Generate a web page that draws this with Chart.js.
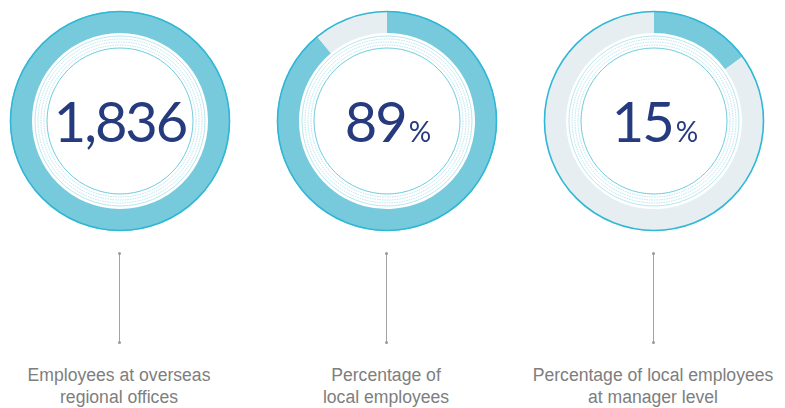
<!DOCTYPE html>
<html>
<head>
<meta charset="utf-8">
<script src="https://cdn.jsdelivr.net/npm/chart.js@4.4.0/dist/chart.umd.min.js"></script>
<style>
  html, body { margin: 0; padding: 0; background: #fff; }
  #wrap { position: relative; width: 785px; height: 408px; overflow: hidden; }
  .ring { position: absolute; top: 1px; }
  .stem { position: absolute; top: 253px; width: 1px; height: 90px; background: #a3a3a3; }
  .stem:before, .stem:after {
    content: ''; position: absolute; left: -1px; width: 3px; height: 3px;
    border-radius: 50%; background: #9a9a9a;
  }
  .stem:before { top: -1px; }
  .stem:after { bottom: -1px; }
  .caption {
    position: absolute; top: 364px; width: 300px; margin-left: -150px;
    text-align: center; font-family: "Liberation Sans", Arial, sans-serif;
    font-size: 17.6px; line-height: 22px; color: #7e7e7e;
  }
</style>
</head>
<body>
<div id="wrap"></div>
<script>
// figures shown in the middle of each ring
const captions = [
  ['Employees at overseas', 'regional offices'],
  ['Percentage of', 'local employees'],
  ['Percentage of local employees', 'at manager level']
];
const figures = ['1,836', '89', '15'];
const units = ['', '%', '%'];
// filled share of each ring (the head-count ring is drawn full)
const shares = [100, 89, 15];

const centersX = [120, 387, 654];
const fillColor = '#77cadc';
const restColor = '#e6eef2';
const edgeColor = '#2fb7d6';
const navy = '#263a7e';
const bigFont = '400 56px Lato, "Noto Sans", sans-serif';
const unitFont = '400 28px Lato, "Noto Sans", sans-serif';

// thin rings, the outer border and the figure in the hole
const ringDecor = {
  id: 'ringDecor',
  afterDraw(chart) {
    const ctx = chart.ctx;
    const arc = chart.getDatasetMeta(0).data[0];
    const cx = arc.x, cy = arc.y, r = arc.outerRadius;
    const idx = chart.options.plugins.ringDecor.index;

    ctx.save();
    // outer border
    ctx.beginPath();
    ctx.arc(cx, cy, r - 0.5, 0, Math.PI * 2);
    ctx.strokeStyle = edgeColor;
    ctx.lineWidth = 1.6;
    ctx.stroke();

    // fine concentric lines inside the hole
    const lines = [
      { d: 25, dash: [], c: '#a6e0ea', w: 0.8 },
      { d: 28, dash: [1.5, 1], c: '#9bd9e6', w: 0.7 },
      { d: 31, dash: [1.5, 1], c: '#9bd9e6', w: 0.7 },
      { d: 34, dash: [1.5, 1], c: '#9bd9e6', w: 0.7 },
      { d: 37, dash: [], c: '#5fc6d8', w: 0.9 }
    ];
    lines.forEach(function (l) {
      ctx.beginPath();
      ctx.setLineDash(l.dash);
      ctx.arc(cx, cy, r - l.d, 0, Math.PI * 2);
      ctx.strokeStyle = l.c;
      ctx.lineWidth = l.w;
      ctx.stroke();
    });
    ctx.setLineDash([]);

    // big figure + unit
    ctx.fillStyle = navy;
    ctx.textBaseline = 'alphabetic';
    ctx.textAlign = 'left';
    ctx.letterSpacing = '-2px';
    ctx.font = bigFont;
    const big = figures[idx];
    const bw = ctx.measureText(big).width;
    ctx.font = unitFont;
    const uw = units[idx] ? ctx.measureText(units[idx]).width + 3 : 0;
    const x0 = cx - (bw + uw) / 2;
    ctx.font = bigFont;
    ctx.fillText(big, x0, cy + 21);
    if (units[idx]) {
      ctx.font = unitFont;
      ctx.fillText(units[idx], x0 + bw + 3, cy + 21);
    }
    ctx.restore();
  }
};

const wrap = document.getElementById('wrap');

shares.forEach(function (share, i) {
  const canvas = document.createElement('canvas');
  canvas.className = 'ring';
  canvas.width = 240;
  canvas.height = 240;
  canvas.style.left = (centersX[i] - 120) + 'px';
  wrap.appendChild(canvas);

  new Chart(canvas, {
    type: 'doughnut',
    data: {
      labels: ['share', 'rest'],
      datasets: [{
        data: [share, 100 - share],
        backgroundColor: [fillColor, restColor],
        borderWidth: 0
      }]
    },
    options: {
      responsive: false,
      animation: false,
      cutout: '80%',
      layout: { padding: 10 },
      plugins: {
        legend: { display: false },
        tooltip: { enabled: false },
        ringDecor: { index: i }
      }
    },
    plugins: [ringDecor]
  });

  const stem = document.createElement('div');
  stem.className = 'stem';
  stem.style.left = (centersX[i] - 1) + 'px';
  wrap.appendChild(stem);

  const cap = document.createElement('div');
  cap.className = 'caption';
  cap.style.left = (centersX[i] - 1) + 'px';
  cap.innerHTML = captions[i].join('<br>');
  wrap.appendChild(cap);
});
</script>
</body>
</html>
